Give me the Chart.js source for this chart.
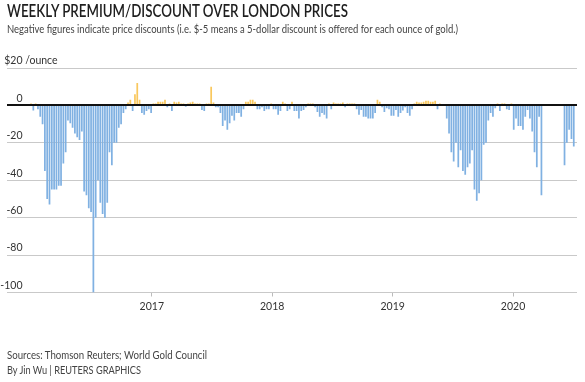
<!DOCTYPE html>
<html><head><meta charset="utf-8">
<script src="https://cdn.jsdelivr.net/npm/chart.js@4.4.1/dist/chart.umd.min.js"></script>
<style>
html,body{margin:0;padding:0;background:#fff;}
body{width:585px;height:382px;position:relative;overflow:hidden;font-family:Lato,"Open Sans",sans-serif;}
.t{position:absolute;left:7px;white-space:nowrap;transform-origin:0 0;line-height:1;display:inline-block;}
#title{top:2px;font-size:17px;font-weight:600;color:#1e1e1e;}
#sub{top:22.5px;font-size:11px;color:#444;}
#src{top:348.5px;font-size:11px;color:#444;}
#by{top:364px;font-size:11px;color:#444;}
canvas{position:absolute;left:0;top:0;}
</style></head>
<body>
<canvas id="c" width="585" height="382"></canvas>
<div class="t" id="title">WEEKLY PREMIUM/DISCOUNT OVER LONDON PRICES</div>
<div class="t" id="sub">Negative figures indicate price discounts (i.e. $-5 means a 5-dollar discount is offered for each ounce of gold.)</div>
<div class="t" id="src">Sources: Thomson Reuters; World Gold Council</div>
<div class="t" id="by">By Jin Wu | REUTERS GRAPHICS</div>
<script>
// Weekly premium(+)/discount(-) in $/ounce, week 0 = first week of Jan 2016 (null = no data)
const premium2016 = [1,-2.7,1,-2,-6,-10,-35,-50,-53,-45,-45,-45,-43,-43,-31,-25,-8,-9.5,-12,-15,-17,-18.5,-14,-46,-48,-55,-57,-100,-60,-40,-52,-58,-60,-52,-25,-32,-20,-20,-12,-10,-4,-2,1.5,3,-3,6,12,3,-4,-5,-3,-2];
const premium2017 = [-4,1,1,2,2,2,3,-1,1,-3,2,1.5,2,1,1,-0.7,1,1.5,2,1,1,1,-2.5,-3,1,1,10,1.5,-1,-1,-4,-11,-8,-13,-9.5,-5.5,-8,-4,-4,-6,-2,2,2,3,3,2,-2,-2,-1,-3,-2,-2];
const premium2018 = [1,-2,-2,-5,-3,2,1,-3,-2,2,-3,-3,-7,-3,-2.5,-1,1,1,1,-1,-3.5,-6,-4,-5,-7,1,-2,1.5,1,1,1,1.5,-1,1,1,1,1,-2,-5,-2.5,-6,-6,-7,-7,-7,-4,3,2,-1,-3.5,-1.5,-2];
const premium2019 = [-5.5,-5.5,-2.5,-6,-4,-2.7,-1,-4,-5.5,-2,1,2,1.5,1.5,2,2.5,2.5,2,2,2.5,-2,1,0.5,0.3,-7,-15,-25,-30,-20,-33,-24,-35,-37,-33,-31,-24,-45,-51,-47,-40,-21,-20,-8,-4,-6,-1.5,1,-3,1,1,-2,-2.5];
const premium2020 = [1,-13,-7,-11,-11,-13,-6,-2.5,-7,-14,-25,-33,-6,-48,null,null,null,null,null,null,null,null,null,-32,-20,-13,-18,-22];
const premium = [].concat(premium2016, premium2017, premium2018, premium2019, premium2020);

const yearLabels = ['2017','2018','2019','2020'];
const yearTickWeeks = [52.29, 104.43, 156.57, 208.71];
const yTicks = [20,0,-20,-40,-60,-80,-100];
const yLabels = ['$20','0','-20','-40','-60','-80','-100'];
const yUnit = ' /ounce';

const BLUE = '#80b1e2', GOLD = '#f9c85e';

const points = [];
premium.forEach((v,i)=>{ if(v!==null) points.push({x:i, y:v}); });

const overlay = {
  id:'overlay',
  afterDatasetsDraw(chart){
    const {ctx, chartArea, scales:{y}} = chart;
    const y0 = Math.round(y.getPixelForValue(0));
    ctx.save();
    ctx.strokeStyle = '#111'; ctx.lineWidth = 2;
    ctx.beginPath(); ctx.moveTo(chartArea.left, y0); ctx.lineTo(chartArea.right, y0); ctx.stroke();
    ctx.font = '10.5px Lato'; ctx.fillStyle = '#333'; ctx.textBaseline = 'alphabetic';
    yTicks.forEach((v,i)=>{
      const py = y.getPixelForValue(v) - 3.7;
      ctx.textAlign = 'right'; ctx.fillText(yLabels[i], chartArea.left + 15.5, py);
      if(i===0){ ctx.textAlign = 'left'; ctx.fillText(yUnit, chartArea.left + 15.5, py); }
    });
    ctx.restore();
  }
};

new Chart(document.getElementById('c'), {
  type:'bar',
  data:{ datasets:[{
    data: points,
    backgroundColor: c => (c.raw && c.raw.y >= 0) ? GOLD : BLUE,
    borderWidth: 0,
    barPercentage: 0.75,
    categoryPercentage: 1.0
  }]},
  options:{
    responsive:false, animation:false, devicePixelRatio:1,
    layout:{ padding:{ left:7, right:8, top:68, bottom:69.5 } },
    plugins:{ legend:{display:false}, tooltip:{enabled:false}, title:{display:false} },
    scales:{
      x:{
        type:'linear', min:-10.4, max:236.4, offset:false,
        afterBuildTicks: s => { s.ticks = yearTickWeeks.map(v=>({value:v})); },
        afterFit: s => { s.height = 20; },
        ticks:{ autoSkip:false, maxRotation:0, padding:4, color:'#333', font:{family:'Lato', size:10.5},
                callback:(v,i)=>yearLabels[i] },
        grid:{ display:true, offset:false, drawOnChartArea:false, drawTicks:true, tickLength:4, color:'#bbb', lineWidth:1 },
        border:{ display:false }
      },
      y:{
        min:-100, max:20,
        afterBuildTicks: s => { s.ticks = yTicks.map(v=>({value:v})); },
        ticks:{ display:false },
        grid:{ drawTicks:false, offset:false, color: c => c.tick && c.tick.value === 0 ? 'rgba(0,0,0,0)' : '#c9c9c9', lineWidth:1 },
        border:{ display:false }
      }
    }
  },
  plugins:[overlay]
});

function fit(id, target){
  const el = document.getElementById(id);
  el.style.transform = 'none';
  const w = el.getBoundingClientRect().width;
  if (w > 0) el.style.transform = 'scaleX(' + (target / w) + ')';
}
function fitAll(){ fit('title',341); fit('sub',451); fit('src',200); fit('by',134); }
fitAll();
if (document.fonts && document.fonts.ready) document.fonts.ready.then(fitAll);
</script>
</body></html>
